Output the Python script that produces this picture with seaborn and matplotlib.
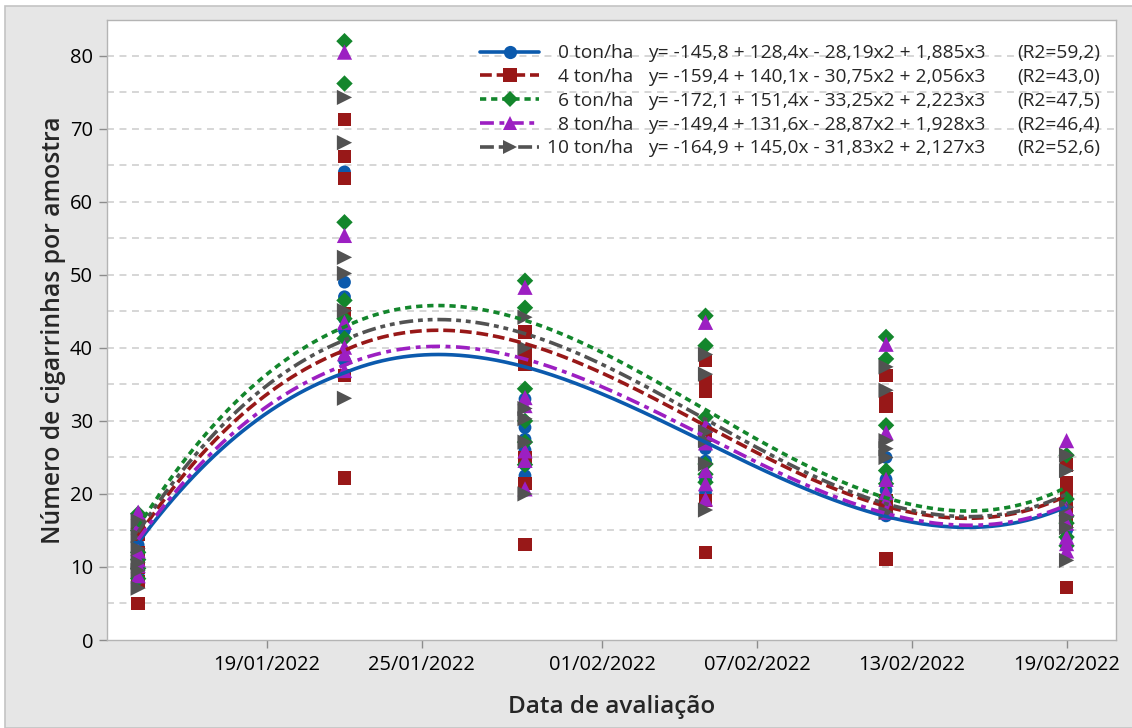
import numpy as np
import pandas as pd
import matplotlib
matplotlib.use("Agg")
import matplotlib.pyplot as plt
import matplotlib.dates as mdates
from matplotlib.lines import Line2D
from matplotlib.patches import Rectangle
import seaborn as sns

# ---------------- data ----------------
dates = ["2022-01-14", "2022-01-22", "2022-01-29", "2022-02-05", "2022-02-12", "2022-02-19"]
x_index = [2, 3, 4, 5, 6, 7]
tick_dates = ["2022-01-19", "2022-01-25", "2022-02-01", "2022-02-07", "2022-02-13", "2022-02-19"]
treatments = ["0 ton/ha", "4 ton/ha", "6 ton/ha", "8 ton/ha", "10 ton/ha"]

coef_0 = [-145.8, 128.4, -28.19, 1.885]
coef_4 = [-159.4, 140.1, -30.75, 2.056]
coef_6 = [-172.1, 151.4, -33.25, 2.223]
coef_8 = [-149.4, 131.6, -28.87, 1.928]
coef_10 = [-164.9, 145.0, -31.83, 2.127]

equations = [
    "y= -145,8 + 128,4x - 28,19x2 + 1,885x3",
    "y= -159,4 + 140,1x - 30,75x2 + 2,056x3",
    "y= -172,1 + 151,4x - 33,25x2 + 2,223x3",
    "y= -149,4 + 131,6x - 28,87x2 + 1,928x3",
    "y= -164,9 + 145,0x - 31,83x2 + 2,127x3",
]
r2_labels = ["(R2=59,2)", "(R2=43,0)", "(R2=47,5)", "(R2=46,4)", "(R2=52,6)"]

# observations: one list per evaluation date
obs_0 = [[14.0, 12.0, 10.5, 9.0, 15.0, 13.0],
         [64.1, 49.0, 42.4, 38.3, 44.0, 47.0],
         [33.0, 29.1, 27.5, 26.0, 24.0, 22.5],
         [29.0, 26.2, 24.5, 22.0, 20.2, 27.5],
         [25.0, 19.3, 22.0, 18.0, 17.0, 20.5],
         [16.3, 18.0, 17.0, 15.0, 14.0, 19.0]]
obs_4 = [[16.0, 14.5, 12.0, 10.0, 8.0, 5.0],
         [71.3, 66.2, 63.2, 44.7, 36.2, 22.2],
         [42.2, 39.5, 37.8, 21.4, 13.1, 25.0],
         [38.3, 35.3, 34.0, 19.1, 12.0, 28.0],
         [36.2, 33.0, 32.0, 11.1, 19.0, 18.0],
         [24.0, 21.5, 7.2, 18.0, 16.0, 20.0]]
obs_6 = [[17.3, 12.0, 9.8, 8.4, 15.0, 11.0],
         [82.0, 76.2, 57.2, 46.5, 41.3, 44.0],
         [49.2, 45.5, 34.4, 27.1, 30.0, 24.0],
         [44.4, 40.3, 30.5, 24.1, 22.7, 21.6],
         [41.5, 38.5, 29.4, 23.2, 21.4, 19.5],
         [25.3, 19.3, 14.1, 12.9, 17.0, 16.0]]
obs_8 = [[17.5, 12.2, 10.2, 8.8, 15.5, 11.0],
         [80.5, 55.4, 43.5, 40.1, 39.2, 36.9],
         [48.3, 33.2, 32.1, 25.9, 24.6, 20.7],
         [43.5, 29.4, 23.2, 21.4, 19.3, 27.0],
         [40.5, 28.4, 20.2, 17.5, 22.0, 19.0],
         [27.3, 14.1, 13.2, 12.2, 16.0, 18.0]]
obs_10 = [[16.3, 14.3, 10.6, 7.1, 12.5, 9.5],
          [74.3, 68.1, 52.4, 50.2, 45.1, 33.1],
          [44.2, 40.0, 31.7, 30.3, 27.1, 20.0],
          [39.1, 36.4, 28.5, 27.3, 24.1, 17.8],
          [37.4, 34.2, 27.3, 26.2, 25.0, 17.5],
          [25.3, 23.2, 18.2, 16.8, 15.4, 10.9]]

# ---------------- styles ----------------
colors = ["#0b5aad", "#981818", "#13862c", "#9c1fc2", "#525252"]
markers = ["o", "s", "D", "^", ">"]
msizes = [85, 95, 70, 120, 120]
dashes = ["-", (0, (8.5, 3.5)), (0, (4.5, 3.5)), (0, (10, 4, 3.5, 4)), (0, (10, 3.5, 3.5, 3.5, 3.5, 3.5))]

coefs = [coef_0, coef_4, coef_6, coef_8, coef_10]
obs = [obs_0, obs_4, obs_6, obs_8, obs_10]

rows = []
for trt, o in zip(treatments, obs):
    for d, vals in zip(dates, o):
        for v in vals:
            rows.append({"date": pd.Timestamp(d), "value": v, "trat": trt})
df = pd.DataFrame(rows)

sns.set_theme(style="white")
plt.rcParams["font.family"] = ["Open Sans", "DejaVu Sans"]
plt.rcParams["lines.scale_dashes"] = False

W, H = 1132, 728
fig = plt.figure(figsize=(W / 100, H / 100), dpi=100)
fig.patch.set_facecolor("white")
fig.patches.append(Rectangle((5 / W, 0), 1.0, 1 - 6 / H, transform=fig.transFigure,
                             facecolor="#e6e6e6", edgecolor="#c4c4c4", lw=1.2, zorder=-10))

ax = fig.add_axes([107 / W, 1 - 640 / H, (1116 - 107) / W, (640 - 20) / H])
ax.set_facecolor("white")

for i, trt in enumerate(treatments):
    sub = df[df["trat"] == trt]
    sns.scatterplot(data=sub, x="date", y="value", color=colors[i], marker=markers[i],
                    s=msizes[i], edgecolor="none", linewidth=0, ax=ax, zorder=3 + i * 0.01,
                    legend=False)

date_nums = mdates.date2num(pd.to_datetime(dates))
grid = np.linspace(date_nums[0], date_nums[-1], 400)
tgrid = np.interp(grid, date_nums, x_index)
for i, trt in enumerate(treatments):
    c = coefs[i]
    yfit = c[0] + c[1] * tgrid + c[2] * tgrid ** 2 + c[3] * tgrid ** 3
    ax.plot(mdates.num2date(grid), yfit, color=colors[i], lw=2.6, ls=dashes[i], zorder=5)

# axes formatting
ax.set_ylim(0, 84.9)
ax.set_xlim(mdates.date2num(pd.Timestamp("2022-01-12 19:00")),
            mdates.date2num(pd.Timestamp("2022-02-20 22:00")))
ax.set_yticks(np.arange(0, 81, 10))
ax.set_xticks(pd.to_datetime(tick_dates))
ax.xaxis.set_major_formatter(mdates.DateFormatter("%d/%m/%Y"))
ax.grid(False)
for yv in np.arange(5, 81, 5):
    ax.axhline(yv, color="#d6d6d6", lw=1.4, ls=(0, (5, 4)), zorder=1)
ax.tick_params(axis="both", which="major", length=6, width=1, color="#8c8c8c",
               labelsize=14.5, labelcolor="black", direction="out", bottom=True, left=True)
ax.tick_params(axis="x", pad=5)
ax.tick_params(axis="y", pad=4)
for s in ax.spines.values():
    s.set_color("#b4b4b4")
    s.set_linewidth(1.0)

ax.set_xlabel("Data de avaliação", fontsize=17.5, fontweight="semibold", labelpad=14)
ax.set_ylabel("Número de cigarrinhas por amostra", fontsize=17.8, fontweight="semibold", labelpad=3)

handles = [Line2D([], [], color=colors[i], lw=2.6, ls=dashes[i], marker=markers[i],
                  markersize=9.5 if markers[i] != "D" else 8, markeredgewidth=0)
           for i in range(len(treatments))]
leg = ax.legend(handles, treatments, loc="upper left", bbox_to_anchor=(0.362, 0.973),
                frameon=False, fontsize=13.8, handlelength=3.1, labelspacing=0.3,
                handletextpad=0.9, borderaxespad=0, numpoints=1)
fig.canvas.draw()
for t, name, eq, r2 in zip(leg.get_texts(), treatments, equations, r2_labels):
    bb = t.get_window_extent()
    yc = (bb.y0 + bb.y1) / 2 / H
    t.set_alpha(0)
    fig.text(633 / W, yc, name, ha="right", va="center", fontsize=13.8)
    fig.text(648 / W, yc, eq, ha="left", va="center", fontsize=13.8)
    fig.text(1017 / W, yc, r2, ha="left", va="center", fontsize=13.8)

fig.savefig("out.png", dpi=100, facecolor="white")
